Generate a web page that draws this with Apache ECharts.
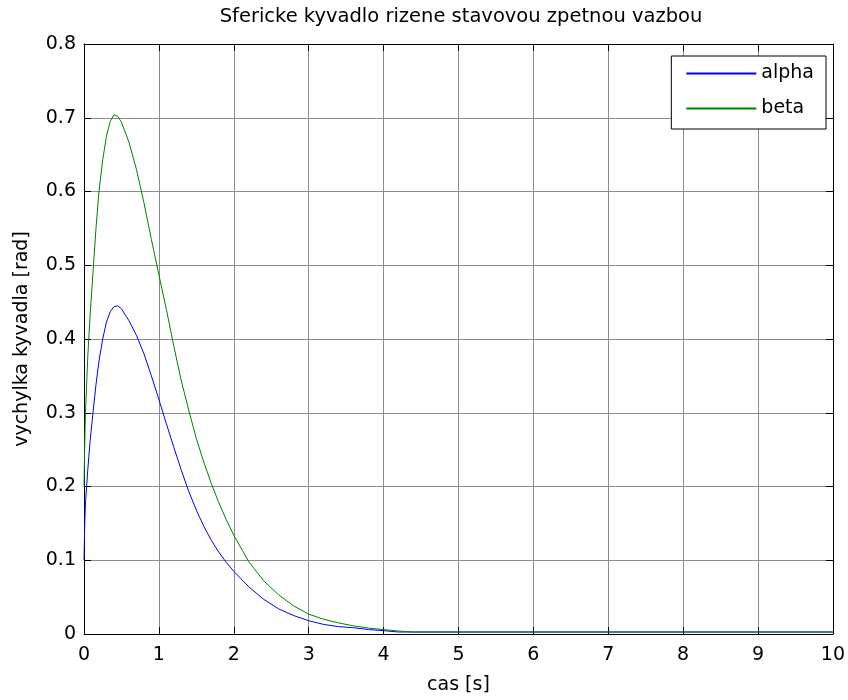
<!DOCTYPE html>
<html>
<head>
<meta charset="utf-8">
<title>Sfericke kyvadlo</title>
<script src="https://cdn.jsdelivr.net/npm/echarts@6/dist/echarts.min.js"></script>
<style>
  html, body { margin: 0; padding: 0; background: #fff; }
  #chart { width: 848px; height: 700px; }
</style>
</head>
<body>
<div id="chart"></div>
<script>
// cas [s]
var casArr = [0, 0.01, 0.02, 0.05, 0.08, 0.12, 0.16, 0.2, 0.25, 0.3, 0.35, 0.4, 0.45, 0.5,
    0.6, 0.7, 0.8, 0.9, 1.0, 1.1, 1.2, 1.3, 1.4, 1.5, 1.6, 1.7, 1.8, 1.9, 2.0,
    2.2, 2.4, 2.6, 2.8, 3.0, 3.2, 3.4, 3.6, 3.8, 4.0, 4.2, 4.4, 5, 6, 7, 8, 9, 10];

// vychylka alpha [rad]
var alphaArr = [0.10, 0.15, 0.178, 0.222, 0.26, 0.30, 0.338, 0.37, 0.40, 0.423, 0.437, 0.444, 0.445, 0.441,
    0.425, 0.405, 0.38, 0.35, 0.318, 0.285, 0.253, 0.222, 0.193, 0.168, 0.146, 0.127, 0.111, 0.097, 0.085,
    0.064, 0.047, 0.034, 0.025, 0.018, 0.013, 0.010, 0.0085, 0.006, 0.0045, 0.0027, 0.0027, 0.0027, 0.0027, 0.0027, 0.0027, 0.0027, 0.0027];

// vychylka beta [rad]
var betaArr = [0.20, 0.26, 0.30, 0.375, 0.43, 0.49, 0.55, 0.60, 0.643, 0.675, 0.695, 0.704, 0.702, 0.694,
    0.667, 0.63, 0.585, 0.535, 0.487, 0.44, 0.39, 0.343, 0.303, 0.265, 0.233, 0.204, 0.178, 0.155, 0.134,
    0.098, 0.072, 0.053, 0.038, 0.027, 0.020, 0.015, 0.011, 0.008, 0.006, 0.004, 0.0027, 0.0027, 0.0027, 0.0027, 0.0027, 0.0027, 0.0027];

var xTicks = [0, 1, 2, 3, 4, 5, 6, 7, 8, 9, 10];
var yTicks = [0, 0.1, 0.2, 0.3, 0.4, 0.5, 0.6, 0.7, 0.8];

function pairs(vals) {
    return casArr.map(function (t, i) { return [t, vals[i]]; });
}

var font = 'DejaVu Sans';
var chart = echarts.init(document.getElementById('chart'));

var tick = { show: true, inside: true, length: 7, lineStyle: { color: '#000', width: 1 } };
var line = { show: true, onZero: false, lineStyle: { color: '#000', width: 1 } };

chart.setOption({
    animation: false,
    backgroundColor: '#fff',
    title: {
        text: 'Sfericke kyvadlo rizene stavovou zpetnou vazbou',
        left: 461,
        top: 7,
        padding: 0,
        textAlign: 'center',
        textStyle: { fontFamily: font, fontSize: 19.5, fontWeight: 'normal', color: '#000' }
    },
    grid: { left: 84, right: 15, top: 44, bottom: 64 },
    legend: {
        orient: 'vertical',
        right: 22,
        top: 56,
        padding: [8, 12, 11, 14],
        itemGap: 16,
        itemWidth: 70,
        itemHeight: 14,
        backgroundColor: '#fff',
        borderColor: '#000',
        borderWidth: 1,
        borderRadius: 0,
        itemStyle: { opacity: 0 },
        textStyle: { fontFamily: font, fontSize: 19, color: '#000' },
        data: ['alpha', 'beta']
    },
    xAxis: [{
        type: 'value',
        position: 'bottom',
        min: xTicks[0],
        max: xTicks[xTicks.length - 1],
        interval: 1,
        name: 'cas [s]',
        nameLocation: 'middle',
        nameGap: 42,
        nameTextStyle: { fontFamily: font, fontSize: 19, color: '#000' },
        axisLine: line,
        axisTick: tick,
        axisLabel: { margin: 12, fontFamily: font, fontSize: 19, color: '#000' },
        splitLine: { show: true, lineStyle: { color: '#8c8c8c', width: 1 } }
    }, {
        type: 'value',
        position: 'top',
        min: xTicks[0],
        max: xTicks[xTicks.length - 1],
        interval: 1,
        axisLine: line,
        axisTick: tick,
        axisLabel: { show: false },
        splitLine: { show: false }
    }],
    yAxis: [{
        type: 'value',
        position: 'left',
        min: yTicks[0],
        max: yTicks[yTicks.length - 1],
        interval: 0.1,
        name: 'vychylka kyvadla [rad]',
        nameLocation: 'middle',
        nameGap: 52,
        nameTextStyle: { fontFamily: font, fontSize: 19, color: '#000' },
        axisLine: line,
        axisTick: tick,
        axisLabel: {
            margin: 8, fontFamily: font, fontSize: 19, color: '#000',
            formatter: function (v) { return v === 0 ? '0' : v.toFixed(1); }
        },
        splitLine: { show: true, lineStyle: { color: '#8c8c8c', width: 1 } }
    }, {
        type: 'value',
        position: 'right',
        min: yTicks[0],
        max: yTicks[yTicks.length - 1],
        interval: 0.1,
        axisLine: line,
        axisTick: tick,
        axisLabel: { show: false },
        splitLine: { show: false }
    }],
    series: [{
        name: 'alpha',
        type: 'line',
        xAxisIndex: 0,
        yAxisIndex: 0,
        symbol: 'none',
        smooth: false,
        color: '#0000ff',
        lineStyle: { color: '#0000ff', width: 1 },
        data: pairs(alphaArr)
    }, {
        name: 'beta',
        type: 'line',
        xAxisIndex: 0,
        yAxisIndex: 0,
        symbol: 'none',
        smooth: false,
        color: '#008000',
        lineStyle: { color: '#008000', width: 1 },
        data: pairs(betaArr)
    }]
});
</script>
</body>
</html>
